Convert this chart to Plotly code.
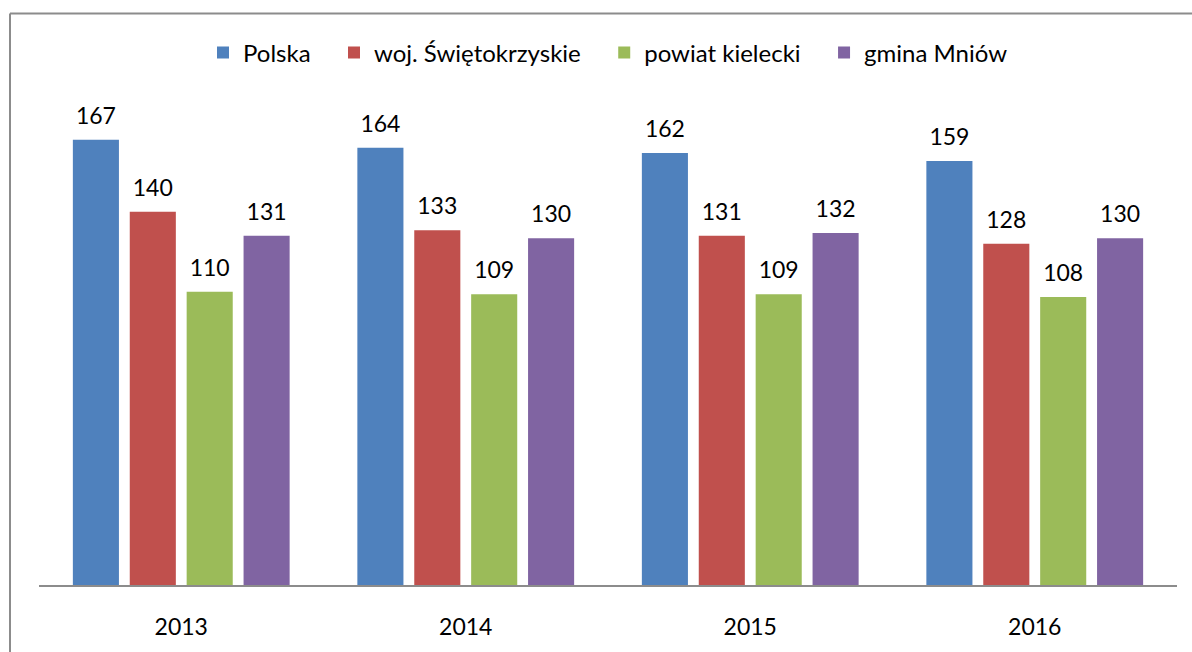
import plotly.graph_objects as go

# dane
lata = ["2013", "2014", "2015", "2016"]
polska = [167, 164, 162, 159]
swietokrzyskie = [140, 133, 131, 128]
powiat_kielecki = [110, 109, 109, 108]
gmina_mniow = [131, 130, 132, 130]

serie = [
    ("Polska", polska, "#4F81BD"),
    ("woj. Świętokrzyskie", swietokrzyskie, "#C0504D"),
    ("powiat kielecki", powiat_kielecki, "#9BBB59"),
    ("gmina Mniów", gmina_mniow, "#8064A2"),
]

W, H = 1192, 652
L, R, T, B = 39, 15, 105, 59
FONT = "Lato, Calibri, Arial, sans-serif"
LABEL_GAP = 3  # odstęp etykiety nad słupkiem (w jednostkach osi)
PAD = "\u00a0" * 3  # dodatkowy odstęp między pozycjami legendy

fig = go.Figure()

for i, (nazwa, wartosci, kolor) in enumerate(serie):
    fig.add_trace(go.Bar(
        x=lata, y=wartosci,
        name=nazwa + (PAD if i < len(serie) - 1 else ""),
        marker=dict(color=kolor, line=dict(width=0)),
        offsetgroup=str(i),
    ))
    # niewidoczny słupek nad słupkiem, żeby podnieść etykietę
    fig.add_trace(go.Bar(
        x=lata, y=[LABEL_GAP] * len(wartosci), base=wartosci,
        marker=dict(color="rgba(0,0,0,0)", line=dict(width=0)),
        text=[str(v) for v in wartosci], textposition="outside",
        textfont=dict(size=23, color="#000000", family=FONT),
        offsetgroup=str(i), showlegend=False, hoverinfo="skip",
        cliponaxis=False,
    ))

pw = W - L - R
ph = H - T - B

def px_x(px):
    return (px - L) / pw

def px_y(py):
    return (H - B - py) / ph

fig.update_layout(
    width=W, height=H,
    margin=dict(l=L, r=R, t=T, b=B),
    barmode="group",
    bargap=0.2, bargroupgap=0.19,
    paper_bgcolor="white", plot_bgcolor="white",
    font=dict(family=FONT, size=23, color="#000000"),
    showlegend=True,
    legend=dict(
        orientation="h", x=0.5, xanchor="center",
        y=px_y(52), yanchor="middle",
        font=dict(size=24, family=FONT),
        traceorder="normal",
    ),
    xaxis=dict(
        showline=True, linecolor="#8C8C8C", linewidth=1.5,
        showgrid=False, ticks="", ticklabelstandoff=21,
        tickfont=dict(size=23, family=FONT),
    ),
    yaxis=dict(
        range=[0, 180], visible=False, showgrid=False, zeroline=False,
    ),
    shapes=[
        dict(type="line", xref="paper", yref="paper",
             x0=px_x(10), x1=px_x(W + 10), y0=px_y(12), y1=px_y(12),
             line=dict(color="#8C8C8C", width=2)),
        dict(type="line", xref="paper", yref="paper",
             x0=px_x(10), x1=px_x(10), y0=px_y(12), y1=px_y(H + 10),
             line=dict(color="#8C8C8C", width=2)),
    ],
)

fig.write_html(
    "out.html",
    config={"displayModeBar": False},
    post_script=(
        "document.body.style.margin='0';"
        "document.body.style.overflow='hidden';"
        "document.documentElement.style.overflow='hidden';"
    ),
)
